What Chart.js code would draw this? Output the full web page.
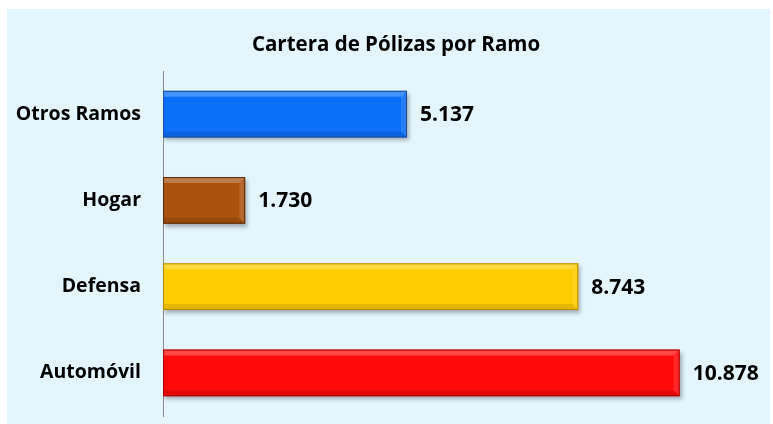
<!DOCTYPE html>
<html>
<head>
<meta charset="utf-8">
<script src="https://cdn.jsdelivr.net/npm/chart.js@4.4.1/dist/chart.umd.min.js"></script>
<style>
  html, body { margin: 0; padding: 0; background: #ffffff; }
  #wrap { width: 773px; height: 424px; position: relative; }
</style>
</head>
<body>
<div id="wrap"><canvas id="ramoChart" width="773" height="424"></canvas></div>
<script>
// Datos
const titulo = 'Cartera de Pólizas por Ramo';
const ramos = ['Otros Ramos', 'Hogar', 'Defensa', 'Automóvil'];
const polizas = [5137, 1730, 8743, 10878];
const coloresBase = ['#0a6ef8', '#a9530f', '#ffcc00', '#ff0a0a'];
const coloresClaros = ['#5aa2ff', '#e38d42', '#ffe46a', '#ff6a6a'];
const coloresOscuros = ['#1c4e9c', '#5a2805', '#b08800', '#a80000'];

const fuente = '"Open Sans", sans-serif';

// formato español: 10878 -> 10.878
function formatoMiles(v) {
    return String(v).replace(/\B(?=(\d{3})+(?!\d))/g, '.');
}

// fondo azul claro + título
const fondoPlugin = {
    id: 'fondo',
    beforeDraw(chart) {
        const ctx = chart.ctx;
        ctx.save();
        ctx.fillStyle = '#e5f5fd';
        ctx.fillRect(7, 9, 763, 415);
        ctx.font = 'bold 20.5px ' + fuente;
        ctx.fillStyle = '#000000';
        ctx.textAlign = 'center';
        ctx.textBaseline = 'middle';
        ctx.fillText(titulo, 396, 45);
        ctx.restore();
    }
};

// sombra + bisel de las barras
const biselPlugin = {
    id: 'bisel',
    beforeDatasetDraw(chart) {
        const ctx = chart.ctx;
        ctx.save();
        ctx.shadowColor = 'rgba(0,0,0,0.3)';
        ctx.shadowBlur = 4;
        ctx.shadowOffsetX = 2;
        ctx.shadowOffsetY = 3;
    },
    afterDatasetDraw(chart) {
        const ctx = chart.ctx;
        ctx.restore();
        const meta = chart.getDatasetMeta(0);
        const b = 6;
        meta.data.forEach((bar, i) => {
            const l = bar.base, r = bar.x;
            const t = bar.y - bar.height / 2, btm = bar.y + bar.height / 2;
            ctx.save();
            // franja superior clara
            ctx.fillStyle = 'rgba(255,255,255,0.25)';
            ctx.beginPath();
            ctx.moveTo(l, t); ctx.lineTo(r, t); ctx.lineTo(r - b, t + b); ctx.lineTo(l, t + b);
            ctx.closePath(); ctx.fill();
            // franja derecha
            ctx.fillStyle = 'rgba(255,255,255,0.12)';
            ctx.beginPath();
            ctx.moveTo(r, t); ctx.lineTo(r, btm); ctx.lineTo(r - b, btm - b); ctx.lineTo(r - b, t + b);
            ctx.closePath(); ctx.fill();
            // franja inferior oscura
            ctx.fillStyle = 'rgba(0,0,0,0.1)';
            ctx.beginPath();
            ctx.moveTo(l, btm); ctx.lineTo(r, btm); ctx.lineTo(r - b, btm - b); ctx.lineTo(l, btm - b);
            ctx.closePath(); ctx.fill();
            // borde
            ctx.strokeStyle = coloresOscuros[i];
            ctx.lineWidth = 1;
            ctx.strokeRect(l + 0.5, t + 0.5, r - l - 1, btm - t - 1);
            ctx.restore();
        });
    }
};

// etiquetas de valor al final de cada barra
const etiquetasPlugin = {
    id: 'etiquetas',
    afterDatasetsDraw(chart) {
        const ctx = chart.ctx;
        const meta = chart.getDatasetMeta(0);
        ctx.save();
        ctx.font = 'bold 21px ' + fuente;
        ctx.fillStyle = '#000000';
        ctx.textAlign = 'left';
        ctx.textBaseline = 'middle';
        meta.data.forEach((bar, i) => {
            ctx.fillText(formatoMiles(polizas[i]), bar.x + 13, bar.y + 1);
        });
        ctx.restore();
    }
};

const ctx = document.getElementById('ramoChart').getContext('2d');
new Chart(ctx, {
    type: 'bar',
    data: {
        labels: ramos,
        datasets: [{
            label: 'Pólizas',
            data: polizas,
            backgroundColor: (c) => {
                const el = c.element;
                const i = c.dataIndex;
                if (!el || !el.height) return coloresBase[i];
                const t = el.y - el.height / 2;
                const g = c.chart.ctx.createLinearGradient(0, t, 0, t + el.height);
                g.addColorStop(0, coloresClaros[i]);
                g.addColorStop(0.35, coloresBase[i]);
                g.addColorStop(1, coloresBase[i]);
                return g;
            },
            borderWidth: 0,
            barPercentage: 0.54,
            categoryPercentage: 1
        }]
    },
    options: {
        indexAxis: 'y',
        responsive: false,
        animation: false,
        layout: { padding: { left: 6, right: 40, top: 71, bottom: 8 } },
        scales: {
            x: {
                display: false,
                min: 0,
                max: 12000
            },
            y: {
                afterFit(scale) {
                    scale.width = 157;
                    scale.paddingTop = 0;
                    scale.paddingBottom = 0;
                },
                grid: { display: false, drawTicks: true, tickLength: 22 },
                border: { display: true, color: '#8c8c8c', width: 1 },
                ticks: {
                    padding: 0,
                    color: '#000000',
                    font: { family: fuente, size: 19.5, weight: 'bold' }
                }
            }
        },
        plugins: {
            legend: { display: false },
            tooltip: { enabled: false },
            title: { display: false }
        }
    },
    plugins: [fondoPlugin, biselPlugin, etiquetasPlugin]
});
</script>
</body>
</html>
